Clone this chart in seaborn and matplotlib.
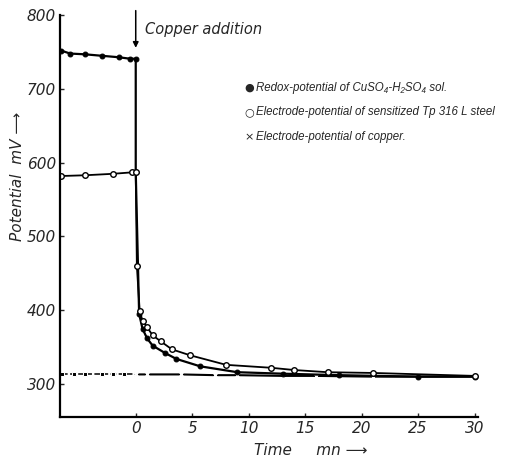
import numpy as np
import pandas as pd
import seaborn as sns
import matplotlib.pyplot as plt

# values (time in min, potential in mV)
redox_t = [-6.6, -5.8, -4.5, -3.0, -1.5, -0.5, 0.0, 0.0, 0.3, 0.6, 1.0, 1.5, 2.6, 3.6, 5.7, 9.0, 13.0, 18.0, 25.0, 30.0]
redox_v = [752, 748, 747, 745, 743, 741, 741, 588, 395, 375, 362, 352, 342, 334, 324, 316, 314, 312, 310, 310]

steel_t = [-6.6, -4.5, -2.0, -0.3, 0.0, 0.1, 0.35, 0.6, 1.0, 1.5, 2.2, 3.2, 4.8, 8.0, 12.0, 14.0, 17.0, 21.0, 30.0]
steel_v = [582, 583, 585, 587, 588, 460, 399, 386, 377, 366, 358, 347, 339, 326, 322, 319, 316, 315, 311]

copper_pre_t = [-6.5, -5.5, -4.5, -3.0, -2.0, -1.0, 0.0]
copper_pre_v = [313, 313, 313, 313, 313, 313, 313]
copper_t = [0.0, 1.0, 4.0, 7.0, 9.0, 13.0, 16.0, 21.0, 25.0, 30.0]
copper_v = [313, 313, 313, 312, 312, 311, 311, 310, 310, 310]

y_ticks = [300, 400, 500, 600, 700, 800]
x_ticks = [0, 5, 10, 15, 20, 25, 30]

legend_lines = [
    ('\u25CF', 'Redox-potential of CuSO\u2084-H\u2082SO\u2084 sol.'),
    ('\u25CB', 'Electrode-potential of sensitized Tp 316 L steel'),
    ('\u00D7', 'Electrode-potential of copper.'),
]

sns.set_style('ticks')
plt.rcParams['font.family'] = ['DejaVu Sans']

fig = plt.figure(figsize=(5.09, 4.61), dpi=100)
ax = fig.add_axes([0.118, 0.095, 0.821, 0.872])

redox = pd.DataFrame({'t': redox_t, 'v': redox_v})
steel = pd.DataFrame({'t': steel_t, 'v': steel_v})
cu_pre = pd.DataFrame({'t': copper_pre_t, 'v': copper_pre_v})
cu = pd.DataFrame({'t': copper_t, 'v': copper_v})

sns.lineplot(data=cu_pre, x='t', y='v', sort=False, estimator=None,
             color='black', lw=1.1, ls='--', marker='s', markersize=2.5,
             ax=ax)
sns.lineplot(data=cu, x='t', y='v', sort=False, estimator=None,
             color='black', lw=1.5, ls='-', marker='x', markersize=3.5,
             markeredgewidth=1, ax=ax)
sns.lineplot(data=redox, x='t', y='v', sort=False, estimator=None,
             color='black', lw=1.6, ls='-', marker='o', markersize=3.5,
             markerfacecolor='black', markeredgecolor='black', ax=ax)
sns.lineplot(data=steel, x='t', y='v', sort=False, estimator=None,
             color='black', lw=1.3, ls='-', marker='o', markersize=4,
             markerfacecolor='white', markeredgecolor='black',
             markeredgewidth=1, ax=ax)

ax.set_xlim(-6.7, 30.3)
ax.set_ylim(255, 800)
ax.set_xticks(x_ticks)
ax.set_yticks(y_ticks)
ax.set_xticklabels([str(t) for t in x_ticks], style='italic', fontsize=11)
ax.set_yticklabels([str(t) for t in y_ticks], style='italic', fontsize=11)
ax.tick_params(direction='in', length=3, width=1, pad=3)
sns.despine(ax=ax)
for s in ['left', 'bottom']:
    ax.spines[s].set_linewidth(1.6)
    ax.spines[s].set_color('black')

ax.set_xlabel('Time     mn \u27F6', style='italic', fontsize=11)
ax.xaxis.set_label_coords(0.6, -0.065)
ax.set_ylabel('Potential  mV \u27F6', style='italic', fontsize=11)
ax.yaxis.set_label_coords(-0.085, 0.6)

ax.annotate('', xy=(0, 752), xytext=(0, 810), annotation_clip=False,
            arrowprops=dict(arrowstyle='-|>', color='black', lw=1.1,
                            mutation_scale=8))
ax.text(0.8, 780, 'Copper addition', style='italic', fontsize=10.5,
        va='center', ha='left')

for i, (sym, label) in enumerate(legend_lines):
    y = 0.82 - i * 0.062
    ax.text(0.452, y, sym, transform=ax.transAxes, fontsize=8,
            va='center', ha='center')
    ax.text(0.470, y, label, transform=ax.transAxes, style='italic',
            fontsize=8.3, va='center', ha='left',
            family=['Liberation Sans', 'DejaVu Sans'])

fig.savefig('out.png', dpi=100)
